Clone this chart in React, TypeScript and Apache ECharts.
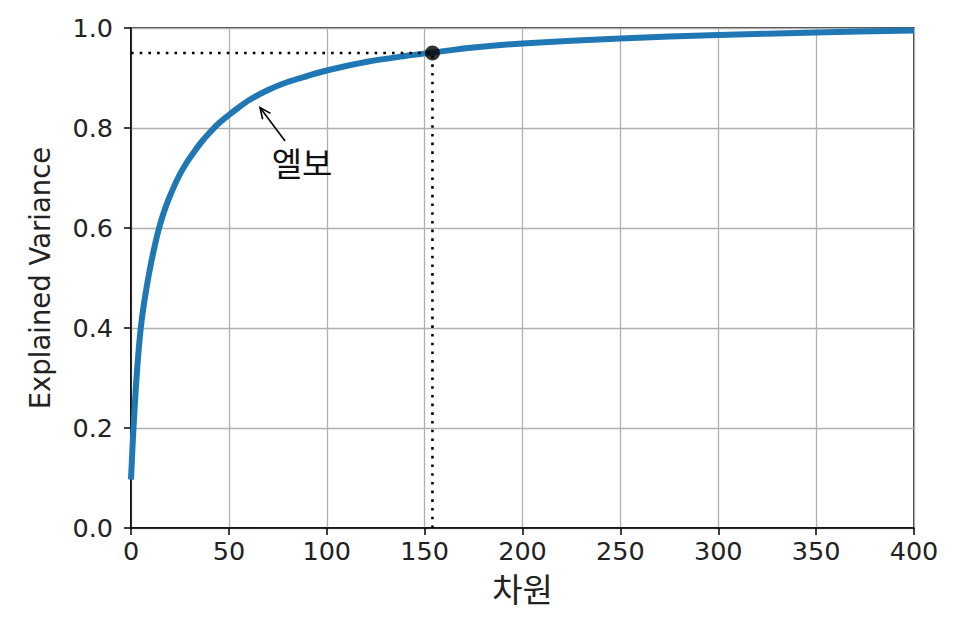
import React, { useEffect, useRef } from "react";
import * as echarts from "echarts";

// Cumulative explained variance vs. number of dimensions
const dims = [0, 1, 2, 3, 4, 5, 6, 8, 10, 12, 14, 16, 18, 20, 24, 28, 32, 36, 40, 45, 50, 55, 60, 70, 80, 90, 100, 120, 140, 154, 175, 200, 250, 300, 350, 400];
const variance = [0.097, 0.18, 0.25, 0.31, 0.36, 0.40, 0.432, 0.482, 0.525, 0.562, 0.595, 0.622, 0.645, 0.665, 0.70, 0.728, 0.751, 0.772, 0.79, 0.81, 0.826, 0.841, 0.855, 0.876, 0.892, 0.904, 0.915, 0.932, 0.944, 0.951, 0.961, 0.969, 0.979, 0.986, 0.991, 0.995];

// Chosen dimension for 95% variance
const chosenDim = 154;
const chosenVar = 0.95;

// Elbow annotation: [tipX, tipY, tailX, tailY, textX, textY]
const elbowAnnotation = [65.9, 0.841, 78.7, 0.774, 87.4, 0.732];
const elbowLabel = "엘보";

const xTicks = { min: 0, max: 400, interval: 50 };
const yTicks = { min: 0, max: 1, interval: 0.2 };

const xName = "차원";
const yName = "Explained Variance";

const FONT = "'DejaVu Sans', 'Noto Sans CJK KR', sans-serif";
const KFONT = "'Noto Sans CJK KR', sans-serif";

export default function App() {
  const ref = useRef<HTMLDivElement>(null);
  useEffect(() => {
    if (!ref.current) return;
    const chart = echarts.init(ref.current, undefined, { renderer: "svg" });
    const curve = dims.map((d, i) => [d, variance[i]]);
    const axisCommon = {
      axisLine: { show: true, lineStyle: { color: "#000", width: 1.5 } },
      axisTick: { show: true, inside: false, length: 7, lineStyle: { color: "#000", width: 1.5 } },
      splitLine: { show: true, lineStyle: { color: "#b0b0b0", width: 1.3 } },
    };
    chart.setOption({
      animation: false,
      backgroundColor: "#fff",
      textStyle: { fontFamily: FONT },
      grid: {
        left: 131,
        right: 45,
        top: 28,
        bottom: 100,
        show: true,
        borderColor: "#000",
        borderWidth: 1.5,
        backgroundColor: "transparent",
      },
      xAxis: {
        type: "value",
        min: xTicks.min,
        max: xTicks.max,
        interval: xTicks.interval,
        name: xName,
        nameLocation: "middle",
        nameGap: 43,
        nameTextStyle: { fontSize: 33, color: "#222", fontFamily: KFONT },
        axisLabel: { fontSize: 25.5, color: "#222", margin: 10, fontFamily: FONT },
        ...axisCommon,
      },
      yAxis: {
        type: "value",
        min: yTicks.min,
        max: yTicks.max,
        interval: yTicks.interval,
        name: yName,
        nameLocation: "middle",
        nameGap: 77,
        nameRotate: 90,
        nameTextStyle: { fontSize: 27.5, color: "#222", fontFamily: FONT },
        axisLabel: {
          fontSize: 25.5,
          color: "#222",
          margin: 18,
          fontFamily: FONT,
          formatter: (v: number) => v.toFixed(1),
        },
        ...axisCommon,
      },
      series: [
        {
          type: "line",
          data: curve,
          showSymbol: false,
          smooth: 0.3,
          lineStyle: { color: "#1f77b4", width: 6 },
          z: 3,
        },
        {
          type: "line",
          data: [
            [0, chosenVar],
            [chosenDim, chosenVar],
          ],
          showSymbol: false,
          lineStyle: { color: "#000", width: 2.6, type: [2.6, 6.1], cap: "butt" },
          z: 4,
        },
        {
          type: "line",
          data: [
            [chosenDim, 0],
            [chosenDim, chosenVar],
          ],
          showSymbol: false,
          lineStyle: { color: "#000", width: 2.6, type: [2.6, 6.1], cap: "butt" },
          z: 4,
        },
        {
          type: "scatter",
          data: [[chosenDim, chosenVar]],
          symbol: "circle",
          symbolSize: 15,
          itemStyle: { color: "#000" },
          z: 5,
        },
        {
          type: "custom",
          coordinateSystem: "cartesian2d",
          data: [elbowAnnotation],
          z: 6,
          renderItem: (_params: any, api: any) => {
            const tip = api.coord([api.value(0), api.value(1)]);
            const tail = api.coord([api.value(2), api.value(3)]);
            const txt = api.coord([api.value(4), api.value(5)]);
            const ang = Math.atan2(tail[1] - tip[1], tail[0] - tip[0]);
            const hl = 12;
            const ha = 0.42;
            const p1 = [tip[0] + hl * Math.cos(ang + ha), tip[1] + hl * Math.sin(ang + ha)];
            const p2 = [tip[0] + hl * Math.cos(ang - ha), tip[1] + hl * Math.sin(ang - ha)];
            return {
              type: "group",
              children: [
                {
                  type: "line",
                  shape: { x1: tail[0], y1: tail[1], x2: tip[0], y2: tip[1] },
                  style: { stroke: "#000", lineWidth: 1.6 },
                },
                {
                  type: "polyline",
                  shape: { points: [p1, tip, p2] },
                  style: { stroke: "#000", fill: null, lineWidth: 1.6 },
                },
                {
                  type: "text",
                  x: txt[0],
                  y: txt[1],
                  style: {
                    text: elbowLabel,
                    fontSize: 33,
                    fontFamily: KFONT,
                    fill: "#111",
                    align: "center",
                    verticalAlign: "middle",
                  },
                },
              ],
            };
          },
        },
      ],
    });
    return () => chart.dispose();
  }, []);
  return (
    <div
      ref={ref}
      style={{ position: "fixed", left: 0, top: 0, width: 959, height: 628 }}
    />
  );
}
